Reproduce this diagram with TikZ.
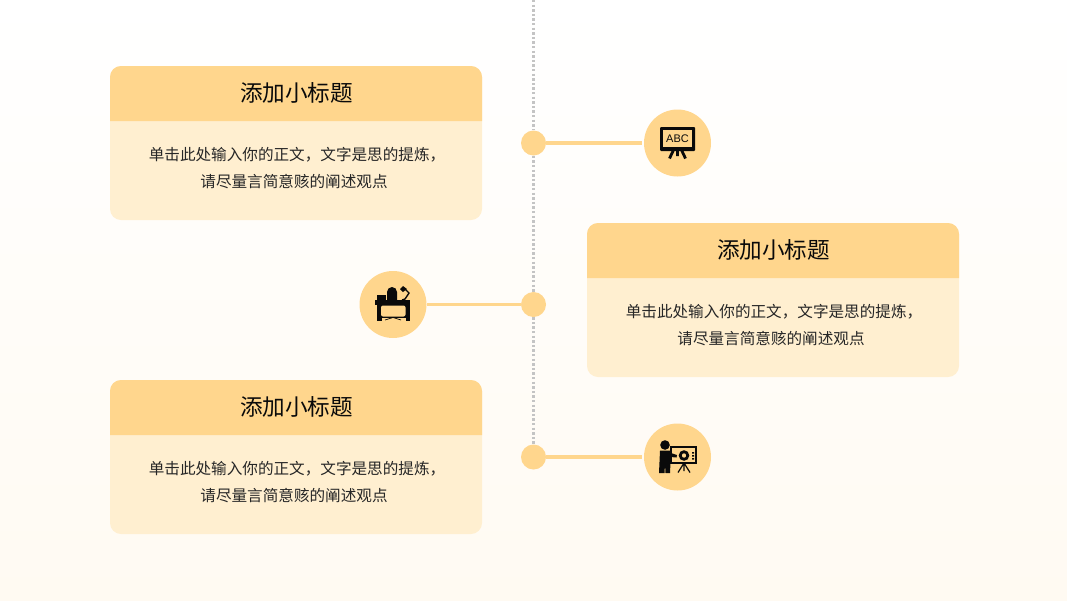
\documentclass[tikz,border=0pt]{standalone}
\usepackage{fontspec}
\setmainfont{Noto Sans CJK SC}
\newfontfamily\iconfont{Liberation Sans}
\definecolor{headfill}{HTML}{FFD68D}
\definecolor{cardfill}{HTML}{FFEFD0}
\definecolor{railgray}{HTML}{C4C4C4}
\definecolor{inkblack}{HTML}{0A0A0A}
\definecolor{pagefill}{HTML}{FFFAF2}
\tikzset{
	titletext/.style = {font = \fontsize{22.6}{26}\selectfont, text = inkblack, inner sep = 0},
	bodytext/.style = {font = \fontsize{15.6}{18}\selectfont, text = black!85, inner sep = 0},
	dotnode/.style = {circle, fill = headfill, minimum size = 25, inner sep = 0},
	iconnode/.style = {circle, fill = headfill, minimum size = 67, inner sep = 0},
	stem/.style = {draw = headfill, line width = 3.2},
	rail/.style = {draw = railgray, line width = 2.4, dash pattern = on 2.4 off 2.2}
}
\begin{document}
\begin{tikzpicture}[x = 1pt, y = -1pt]
	\useasboundingbox (0,0) rectangle (1067,600);
	\shade[top color = white, bottom color = pagefill] (0,0) rectangle (1067,600);
	% dots and icon discs
	\node[dotnode] (dotA) at (533.5,143) {};
	\node[dotnode] (dotB) at (533.5,304.5) {};
	\node[dotnode] (dotC) at (533.5,457) {};
	\node[iconnode] (iconA) at (677.5,143) {};
	\node[iconnode] (iconB) at (393,304.5) {};
	\node[iconnode] (iconC) at (677.5,457) {};
	\coordinate (railtop) at (533.5,0);
	\draw[rail] (railtop) -- (dotA);
	\draw[rail] (dotA) -- (dotB);
	\draw[rail] (dotB) -- (dotC);
	\draw[stem, shorten > = 2] (dotA) -- (iconA);
	\draw[stem] (dotB) -- (iconB);
	\draw[stem, shorten > = 2] (dotC) -- (iconC);
	% cards
	\foreach \cx/\cy/\cname in {110/66/cardA, 587/223/cardB, 110/380/cardC}{
		\fill[cardfill, rounded corners = 11] (\cx,\cy) rectangle (\cx+372,\cy+154);
		\fill[headfill] (\cx,\cy+55) [rounded corners = 11] -- (\cx,\cy) -- (\cx+372,\cy) [sharp corners] -- (\cx+372,\cy+55) -- cycle;
		\node[titletext] (\cname title) at (\cx+186.5,\cy+26.5) {添加小标题};
		\node[bodytext] (\cname lineA) at (\cx+187,\cy+88.5) {单击此处输入你的正文，文字是思的提炼，};
		\node[bodytext] (\cname lineB) at (\cx+184,\cy+116) {请尽量言简意赅的阐述观点};
	}
	% board icon
	\fill[inkblack, rounded corners = 1] (660,127) rectangle (695,151);
	\fill[headfill] (663,130) rectangle (692,146.5);
	\node[inner sep = 0, text = inkblack, font = \iconfont\fontsize{11}{13}\selectfont] (abc) at (677.5,138.5) {ABC};
	\draw[inkblack, line width = 2.8] (673.5,150) -- (669.5,158.5) (677.5,150) -- (677.5,156) (681.5,150) -- (685.5,158.5);
	% desk icon
	\fill[inkblack] (387,300) -- (387,292) arc (180:360:5 and 5) -- (397,300) -- cycle;
	\fill[inkblack] (377,295) rectangle (386,300);
	\draw[inkblack, line width = 1.4] (402,300) -- (405,299) -- (409,293) -- (404,288);
	\fill[inkblack] (400,289) -- (403,286) -- (407,289) -- (403,292) -- cycle;
	\fill[inkblack] (375,300) rectangle (410,304.5);
	\fill[inkblack] (377,304) rectangle (381.5,320.5);
	\fill[inkblack] (405.5,304) rectangle (409.5,320.5);
	\fill[inkblack] (380,304) rectangle (407,318);
	\fill[headfill, rounded corners = 2] (381,305.5) rectangle (405.5,316.5);
	\draw[inkblack, line width = 0.7] (385,320) -- (393,317.5) -- (401,320);
	% presenter icon
	\fill[inkblack] (665,445) circle (4.8);
	\fill[inkblack] (660,450.5) -- (670,450.5) -- (671,453) -- (677,455) -- (676.5,457.5) -- (670.5,457) -- (670.5,462) -- (670,473) -- (665.5,473) -- (665,464) -- (664.5,473) -- (659,473) -- cycle;
	\draw[inkblack, line width = 1.1] (671,447) rectangle (696,463);
	\fill[inkblack, even odd rule] (684,455.5) circle (5.3) (684,455.5) circle (2.3);
	\fill[inkblack] (692,452) rectangle (694,453.5) (692,455) rectangle (694,456.5) (692,458) rectangle (694,459.5);
	\draw[inkblack, line width = 1.2] (684,463) -- (678,472.5) (684,463) -- (684,471) (684,463) -- (690,472.5);
\end{tikzpicture}
\end{document}
